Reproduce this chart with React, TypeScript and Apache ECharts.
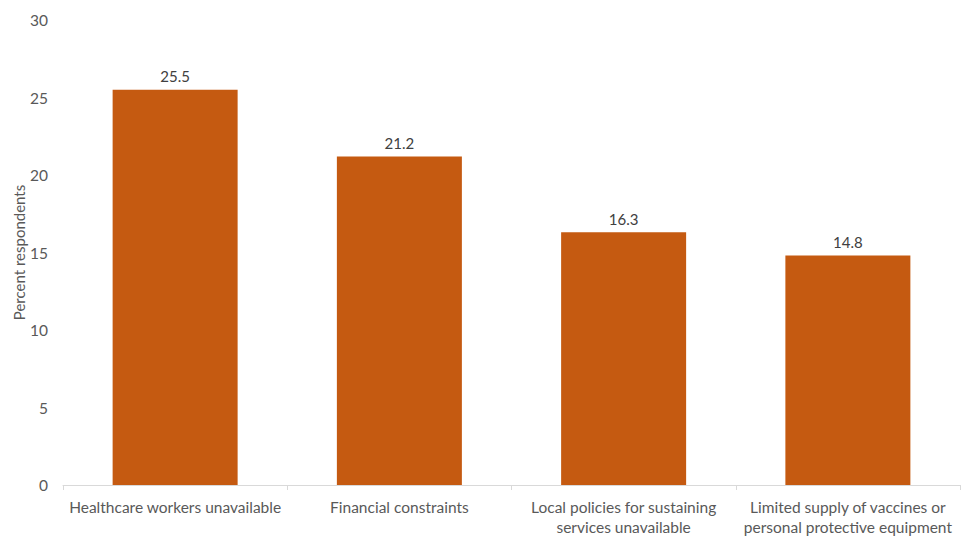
import React, { useEffect, useRef } from "react";
import * as echarts from "echarts";

const categories = [
  "Healthcare workers unavailable",
  "Financial constraints",
  "Local policies for sustaining\nservices unavailable",
  "Limited supply of vaccines or\npersonal protective equipment",
];
const values = [25.5, 21.2, 16.3, 14.8];
const yAxisTitle = "Percent respondents";

const FONT = "Lato, 'Open Sans', sans-serif";
const TEXT = "#595959";

export default function App() {
  const ref = useRef<HTMLDivElement>(null);
  useEffect(() => {
    if (!ref.current) return;
    const chart = echarts.init(ref.current, undefined, { renderer: "svg" });
    chart.setOption({
      animation: false,
      grid: { left: 63, right: 5, top: 20, bottom: 54, containLabel: false, outerBoundsMode: "none" },
      xAxis: {
        type: "category",
        data: categories,
        axisLine: { show: true, lineStyle: { color: "#D9D9D9", width: 1 } },
        axisTick: { show: true, alignWithLabel: false, length: 5, lineStyle: { color: "#D9D9D9" } },
        axisLabel: {
          color: TEXT,
          fontFamily: FONT,
          fontSize: 15.5,
          lineHeight: 20,
          margin: 12,
          interval: 0,
        },
      },
      yAxis: {
        type: "value",
        min: 0,
        max: 30,
        interval: 5,
        name: yAxisTitle,
        nameLocation: "middle",
        nameGap: 37,
        nameMoveOverlap: false,
        nameTextStyle: { color: TEXT, fontFamily: FONT, fontSize: 15 },
        axisLine: { show: false },
        axisTick: { show: false },
        splitLine: { show: false },
        axisLabel: { color: TEXT, fontFamily: FONT, fontSize: 15.5, margin: 15 },
      },
      series: [
        {
          type: "bar",
          data: values,
          barWidth: 125,
          itemStyle: { color: "#C55A11" },
          label: {
            show: true,
            position: "top",
            distance: 6,
            color: "#404040",
            fontFamily: FONT,
            fontSize: 15,
            formatter: (p: any) => p.value.toFixed(1),
          },
        },
      ],
    });
    return () => chart.dispose();
  }, []);
  return <div ref={ref} style={{ width: 965, height: 539, position: "absolute", left: 0, top: 0, background: "#fff" }} />;
}
